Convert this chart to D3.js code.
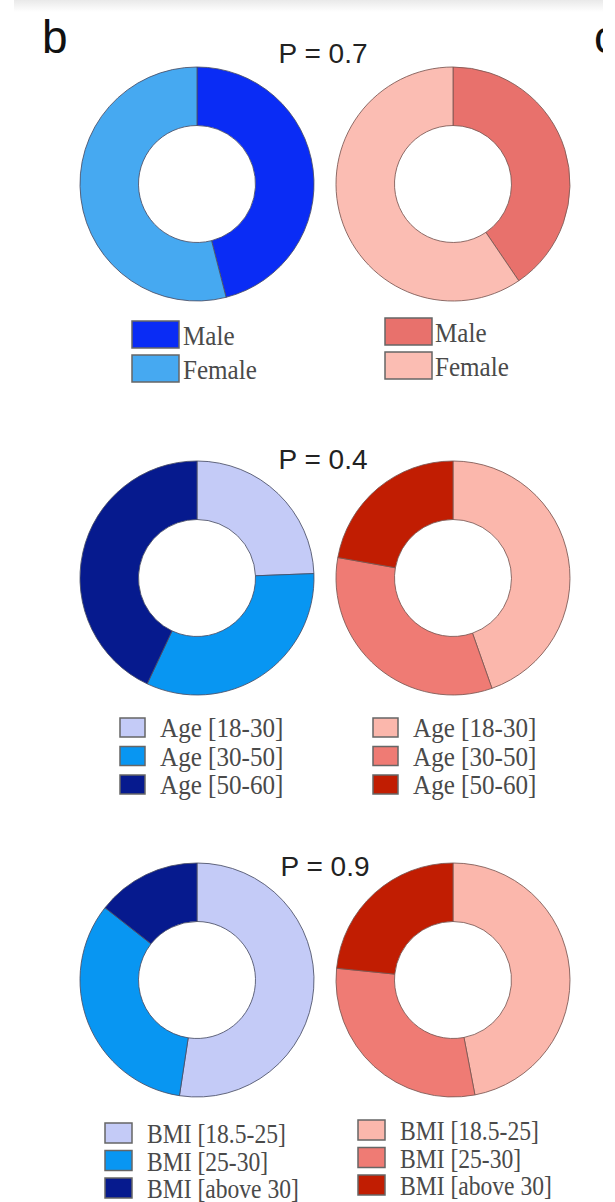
<!DOCTYPE html>
<html>
<head>
<meta charset="utf-8">
<script src="https://cdn.jsdelivr.net/npm/d3@7"></script>
<style>
  html, body { margin: 0; padding: 0; background: #fff; }
  svg { display: block; }
</style>
</head>
<body>
<svg id="chart" width="615" height="1202"></svg>
<script>
// Group shares (percent) for the two cohorts, per characteristic
const sexLabels = ["Male", "Female"];
const sexBlue = [46, 54];
const sexRed = [40.5, 59.5];

const ageLabels = ["Age [18-30]", "Age [30-50]", "Age [50-60]"];
const ageBlue = [24.4, 32.6, 43.0];
const ageRed = [44.6, 33.2, 22.2];

const bmiLabels = ["BMI [18.5-25]", "BMI [25-30]", "BMI [above 30]"];
const bmiBlue = [52.4, 33.2, 14.4];
const bmiRed = [47.0, 29.6, 23.4];

const pLabels = ["P = 0.7", "P = 0.4", "P = 0.9"];

// Palettes
const sexBlueColors = ["#0a2cf5", "#46a9f1"];
const sexRedColors = ["#e8716c", "#fbbdb3"];
const triBlueColors = ["#c4cbf7", "#0896f2", "#061a8e"];
const triRedColors = ["#fbb7ac", "#ef7b74", "#c11d02"];

const rows = [
  { labels: sexLabels, blue: sexBlue, red: sexRed, bc: sexBlueColors, rc: sexRedColors, p: pLabels[0] },
  { labels: ageLabels, blue: ageBlue, red: ageRed, bc: triBlueColors, rc: triRedColors, p: pLabels[1] },
  { labels: bmiLabels, blue: bmiBlue, red: bmiRed, bc: triBlueColors, rc: triRedColors, p: pLabels[2] }
];

// Layout
const colX = [197, 453];
const rowY = [184, 578, 980];
const outerR = 117, innerR = 58.5;
const pLayout = [{ x: 323, y: 63 }, { x: 323, y: 469 }, { x: 325, y: 876 }];

// Legend layout per row: [blue, red] columns
const legendLayout = [
  { cols: [{ sx: 132, tx: 183, top: 321 }, { sx: 385, tx: 435, top: 318 }], sw: 47, sh: 27, step: 34, base: 24, fs: 27, xs: 0.93 },
  { cols: [{ sx: 120, tx: 160, top: 718 }, { sx: 373, tx: 413, top: 718 }], sw: 25, sh: 19, step: 28.5, base: 19, fs: 27, xs: 0.93 },
  { cols: [{ sx: 105, tx: 147, top: 1123 }, { sx: 358, tx: 400, top: 1120 }], sw: 27, sh: 20, step: 27.5, base: 20, fs: 26.5, xs: 0.89 }
];

const svg = d3.select("#chart");

// faint header band
const defs = svg.append("defs");
const grad = defs.append("linearGradient").attr("id", "band").attr("x1", 0).attr("y1", 0).attr("x2", 0).attr("y2", 1);
grad.append("stop").attr("offset", "0%").attr("stop-color", "#e9e9e9");
grad.append("stop").attr("offset", "100%").attr("stop-color", "#ffffff");
svg.append("rect").attr("x", 14).attr("y", 0).attr("width", 589).attr("height", 12).attr("fill", "url(#band)");

defs.append("clipPath").attr("id", "panelClip")
  .append("rect").attr("x", 0).attr("y", 0).attr("width", 603).attr("height", 1202);

// panel letters
svg.append("text").attr("x", 42).attr("y", 53)
  .attr("font-family", "Liberation Sans, Arial, sans-serif").attr("font-size", 46).attr("fill", "#111").text("b");
svg.append("text").attr("x", 594).attr("y", 53).attr("clip-path", "url(#panelClip)")
  .attr("font-family", "Liberation Sans, Arial, sans-serif").attr("font-size", 46).attr("fill", "#111").text("c");

const pie = d3.pie().sort(null).value(d => d);
const arc = d3.arc().innerRadius(innerR).outerRadius(outerR);

rows.forEach((row, i) => {
  const series = [{ vals: row.blue, colors: row.bc, stroke: "#4a4f66" }, { vals: row.red, colors: row.rc, stroke: "#7a5752" }];

  series.forEach((s, j) => {
    const g = svg.append("g").attr("transform", `translate(${colX[j]},${rowY[i]})`);
    g.selectAll("path")
      .data(pie(s.vals))
      .join("path")
      .attr("d", arc)
      .attr("fill", (d, k) => s.colors[k])
      .attr("stroke", s.stroke)
      .attr("stroke-width", 1)
      .attr("stroke-opacity", 0.85);

    // legend
    const L = legendLayout[i];
    const c = L.cols[j];
    const lg = svg.append("g");
    row.labels.forEach((lab, k) => {
      const y0 = c.top + k * L.step;
      lg.append("rect")
        .attr("x", c.sx).attr("y", y0)
        .attr("width", L.sw).attr("height", L.sh)
        .attr("fill", s.colors[k])
        .attr("stroke", "#666").attr("stroke-width", 1.5);
      lg.append("text")
        .attr("transform", `translate(${c.tx},${y0 + L.base}) scale(${L.xs},1)`)
        .attr("font-family", "Liberation Serif, Times New Roman, serif")
        .attr("font-size", L.fs)
        .attr("fill", "#4a4a4a")
        .text(lab);
    });
  });

  svg.append("text")
    .attr("x", pLayout[i].x).attr("y", pLayout[i].y)
    .attr("text-anchor", "middle")
    .attr("font-family", "Liberation Sans, Arial, sans-serif")
    .attr("font-size", 28)
    .attr("fill", "#222")
    .text(row.p);
});
</script>
</body>
</html>
